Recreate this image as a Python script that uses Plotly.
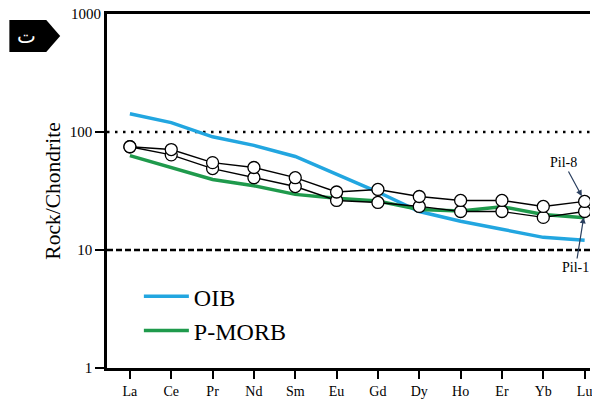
import math
import plotly.graph_objects as go

elements = ["La", "Ce", "Pr", "Nd", "Sm", "Eu", "Gd", "Dy", "Ho", "Er", "Yb", "Lu"]
oib = [143, 120, 91, 77, 62, 44, 31, 21.2, 17.5, 15.0, 12.8, 12.1]
pmorb = [63, 50, 39.6, 35, 29.6, 27.4, 26, 22, 21.4, 23.3, 20, 18.8]
pil8 = [75, 71, 55, 50, 41, 31, 32.6, 28.4, 26.3, 26.3, 23.4, 25.8]
pil1 = [75, 64, 49, 41, 34.5, 26.3, 25.3, 23.4, 21.2, 21.2, 18.9, 21.2]
ytick_vals = [1, 10, 100, 1000]
ytick_text = ["1", "10", "100", "1000"]

W, H = 592, 399
ML, MR, MT, MB = 107, 0, 14, 30
PW, PH = W - ML - MR, H - MT - MB

def px(x):
    return (x - ML) / PW

def py(y):
    return (H - MB - y) / PH

SERIF = "Liberation Serif"

fig = go.Figure()
fig.add_trace(go.Scatter(x=elements, y=oib, mode="lines", name="OIB",
                         line=dict(color="#22a6e0", width=3.5)))
fig.add_trace(go.Scatter(x=elements, y=pmorb, mode="lines", name="P-MORB",
                         line=dict(color="#1f9a4c", width=3.5)))
for name, vals in [("Pil-1", pil1), ("Pil-8", pil8)]:
    fig.add_trace(go.Scatter(x=elements, y=vals, mode="lines+markers", name=name,
                             showlegend=False,
                             line=dict(color="black", width=1.4),
                             marker=dict(symbol="circle", size=12, color="white",
                                         line=dict(color="black", width=1.3))))

# reference lines
fig.add_shape(type="line", xref="paper", x0=0, x1=1, yref="y", y0=100, y1=100,
              line=dict(color="black", width=2.5, dash="2.5px,5.5px"), layer="below")
fig.add_shape(type="line", xref="paper", x0=0, x1=1, yref="y", y0=10, y1=10,
              line=dict(color="black", width=2.5, dash="6px,3px"), layer="below")

# top tick label (drawn without a tick mark, as in the original)
fig.add_annotation(xref="paper", yref="y", x=0, y=math.log10(ytick_vals[-1]),
                   text=ytick_text[-1], showarrow=False, xanchor="right", yanchor="middle",
                   xshift=-4, font=dict(family=SERIF, size=15, color="black"))

# tag in the corner
pts = [(9, 20), (46, 20), (60, 36), (46, 52), (9, 52)]
path = "M " + " L ".join(f"{px(a):.4f},{py(b):.4f}" for a, b in pts) + " Z"
fig.add_shape(type="path", xref="paper", yref="paper", path=path,
              fillcolor="black", line=dict(color="black", width=0))
fig.add_annotation(xref="paper", yref="paper", x=px(26), y=py(36), text="ت",
                   showarrow=False, font=dict(family="DejaVu Sans", size=20, color="white"),
                   xanchor="center", yanchor="middle")

# sample labels
fig.add_annotation(x="Lu", y=math.log10(pil8[-1]), text="Pil-8", showarrow=True,
                   ax=-21, ay=-39, arrowhead=2, arrowsize=1, arrowwidth=1.2,
                   standoff=6, font=dict(family=SERIF, size=14, color="black"))
fig.add_annotation(x="Lu", y=math.log10(pil1[-1]), text="Pil-1", showarrow=True,
                   ax=-9, ay=56, arrowhead=2, arrowsize=1, arrowwidth=1.2,
                   standoff=6, font=dict(family=SERIF, size=14, color="black"))

fig.update_layout(
    width=W, height=H,
    margin=dict(l=ML, r=MR, t=MT, b=MB, pad=0),
    paper_bgcolor="white", plot_bgcolor="white",
    font=dict(family=SERIF, color="black"),
    showlegend=True,
    legend=dict(x=px(139), y=py(275), xanchor="left", yanchor="top",
                font=dict(family=SERIF, size=24, color="black"),
                bgcolor="rgba(0,0,0,0)", borderwidth=0, itemwidth=45,
                tracegroupgap=0),
    xaxis=dict(type="category", range=[-0.554, 11.13], showgrid=False, zeroline=False,
               showline=True, linecolor="black", linewidth=2.5, mirror=True,
               ticks="outside", ticklen=8, tickwidth=2, tickcolor="black",
               tickfont=dict(family=SERIF, size=14, color="black")),
    yaxis=dict(type="log", range=[0, 3], showgrid=False, zeroline=False,
               showline=True, linecolor="black", linewidth=2.5,
               ticks="outside", ticklen=9, tickwidth=2, tickcolor="black",
               tickvals=ytick_vals[:-1], ticktext=ytick_text[:-1],
               tickfont=dict(family=SERIF, size=15, color="black"),
               title=dict(text="Rock/Chondrite", font=dict(family=SERIF, size=21.5, color="black"),
                          standoff=4)),
)

fig.write_html("out.html")
